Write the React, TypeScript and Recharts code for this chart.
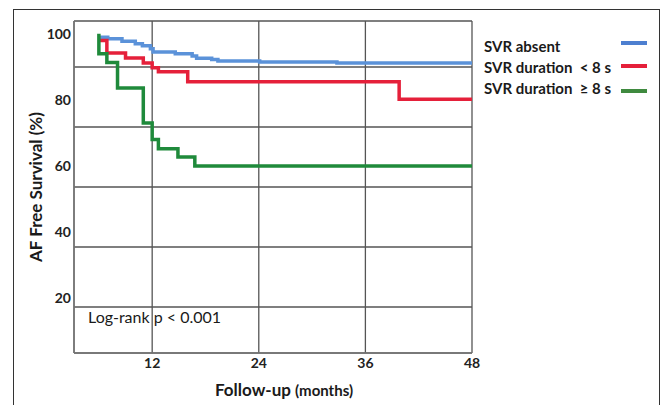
import React from 'react';
import { LineChart, Line, XAxis, YAxis, CartesianGrid, Label } from 'recharts';

// Follow-up months (step change points) and AF-free survival (%)
const blueMonths = [6, 7, 8.6, 10.1, 10.9, 11.8, 12.1, 14.6, 16.5, 17, 18.7, 19.4, 24.1, 32.8, 48];
const blueSurv = [99, 98.5, 97.8, 97, 96.4, 95.5, 94.5, 94, 93.3, 92.6, 92.2, 91.8, 91.5, 91.2, 91.2];

const redMonths = [6, 6.9, 9, 11, 12, 12.7, 16, 39.8, 48];
const redSurv = [98, 94.2, 92.7, 91.2, 89.7, 88.5, 85.5, 80.2, 80.2];

const greenMonths = [6, 6, 6.9, 8.1, 11, 12, 12.7, 14.9, 16.8, 48];
const greenSurv = [100, 94, 91.3, 83.6, 73, 68, 65.2, 62.7, 60, 60];

const xTicks = [12, 24, 36, 48];
const yTicks = [20, 40, 60, 80, 100];
const gridTicks = [0, 1, 2, 3, 4];

const seriesNames = ['SVR absent', 'SVR duration  < 8 s', 'SVR duration  \u2265 8 s'];
const seriesColors = ['#5b92d9', '#e5203a', '#1f8a3b'];
const legendColors = ['#4d7fd0', '#e5203a', '#3f8a3f'];

const toData = (xs: number[], ys: number[]) => xs.map((m, i) => ({ m, v: ys[i] }));
const blueData = toData(blueMonths, blueSurv);
const redData = toData(redMonths, redSurv);
const greenData = toData(greenMonths, greenSurv);
const allData = [blueData, redData, greenData];

const FONT = 'Lato, "Open Sans", sans-serif';

const XTitle = (props: any) => {
  const vb = props.viewBox || { x: 0, y: 0, width: 0, height: 0 };
  return (
    <text x={vb.x + vb.width / 2 + 11} y={vb.y + 43} textAnchor="middle" fontFamily={FONT} fill="#1a1a1a" fontWeight={700}>
      <tspan fontSize={17}>Follow-up </tspan>
      <tspan fontSize={15}>(months)</tspan>
    </text>
  );
};

const YTitle = (props: any) => {
  const vb = props.viewBox || { x: 0, y: 0, width: 0, height: 0 };
  const cx = vb.x + 35;
  const cy = vb.y + vb.height / 2;
  return (
    <text x={cx} y={cy} transform={`rotate(-90 ${cx} ${cy})`} textAnchor="middle" dominantBaseline="central" fontFamily={FONT} fontSize={17} fontWeight={700} fill="#1a1a1a">
      AF Free Survival (%)
    </text>
  );
};

export default function App() {
  return (
    <div style={{ position: 'absolute', left: 0, top: 0, width: 660, height: 405, overflow: 'hidden', background: '#fff', fontFamily: FONT }}>
      <div style={{ position: 'absolute', left: 13, top: 9, width: 647, height: 430, border: '1.5px solid #333', boxSizing: 'border-box' }} />
      <div style={{ position: 'absolute', left: 0, top: 0 }}>
        <LineChart width={660} height={405} margin={{ top: 21, right: 188, bottom: 0, left: 0 }}>
          <CartesianGrid yAxisId="g" stroke="#555" strokeWidth={1.3} />
          <XAxis
            dataKey="m"
            type="number"
            domain={[3.2, 48]}
            ticks={xTicks}
            allowDataOverflow
            tickLine={false}
            tickSize={0}
            tickMargin={5}
            height={52}
            axisLine={{ stroke: '#777', strokeWidth: 1.5 }}
            tick={{ fontSize: 14, fontWeight: 700, fill: '#222', fontFamily: FONT }}
          >
            <Label content={XTitle} />
          </XAxis>
          <YAxis yAxisId="g" hide type="number" domain={[-0.767, 4.767]} ticks={gridTicks} allowDataOverflow />
          <YAxis
            type="number"
            domain={[3.3, 103.9]}
            ticks={yTicks}
            allowDataOverflow
            tickLine={false}
            tickSize={0}
            tickMargin={3}
            width={74}
            axisLine={{ stroke: '#777', strokeWidth: 1.5 }}
            tick={{ fontSize: 14, fontWeight: 700, fill: '#222', fontFamily: FONT }}
          >
            <Label content={YTitle} />
          </YAxis>
          {allData.map((d, i) => (
            <Line
              key={seriesNames[i]}
              data={d}
              dataKey="v"
              name={seriesNames[i]}
              type="stepAfter"
              stroke={seriesColors[i]}
              strokeWidth={3.5}
              dot={false}
              activeDot={false}
              isAnimationActive={false}
            />
          ))}
        </LineChart>
      </div>
      <div style={{ position: 'absolute', left: 88, top: 307, fontSize: 16, color: '#1a1a1a', whiteSpace: 'nowrap', lineHeight: '20px' }}>
        Log-rank p &lt; 0.001
      </div>
      {seriesNames.map((n, i) => (
        <React.Fragment key={n}>
          <div style={{ position: 'absolute', left: 484, top: 36 + i * 21, fontSize: 15, fontWeight: 700, color: '#1a1a1a', whiteSpace: 'pre', lineHeight: '20px' }}>
            {n}
          </div>
          <div style={{ position: 'absolute', left: 621, top: [41, 64, 89][i], width: 26, height: 3.5, background: legendColors[i] }} />
        </React.Fragment>
      ))}
    </div>
  );
}
